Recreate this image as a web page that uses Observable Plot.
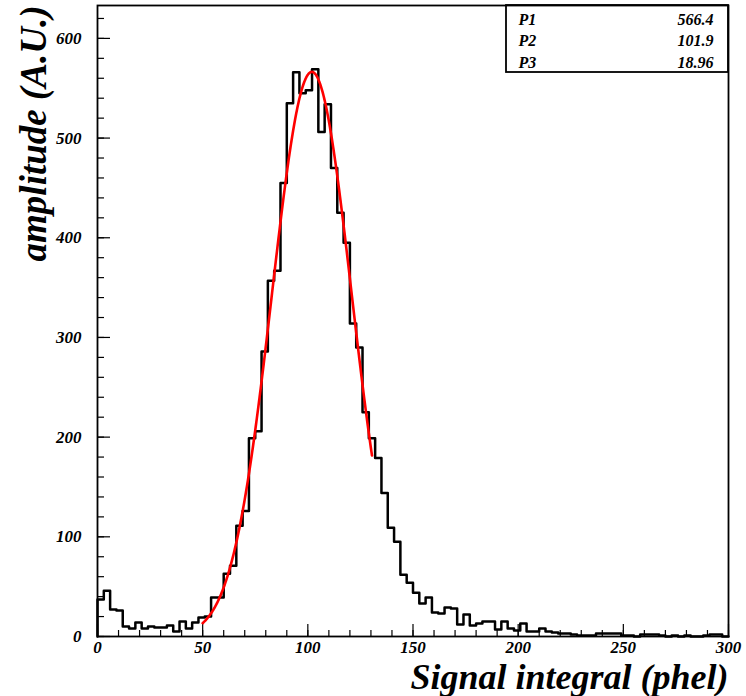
<!DOCTYPE html>
<html><head><meta charset="utf-8">
<script src="https://cdn.jsdelivr.net/npm/d3@7"></script>
<script src="https://cdn.jsdelivr.net/npm/@observablehq/plot@0.6"></script>
<style>
html,body{margin:0;padding:0;background:#fff;}
#chart svg{display:block;}
#chart svg text{font-family:'Liberation Serif','Times New Roman',serif;font-weight:bold;font-style:italic;}
</style>
</head><body><div id="chart"></div>
<script>
// ---- data ----
const binWidth = 3;      // 100 bins from 0 to 300
const counts = [
  37,46,27,26,10,8,14,8,10,9,
  9,11,5,15,8,14,19,20,39,39,
  63,71,111,126,199,206,286,357,367,455,
  535,566,545,548,569,506,534,470,425,395,
  314,290,225,199,179,144,109,95,62,54,
  44,33,39,24,23,29,28,12,22,11,
  13,15,15,7,15,8,6,13,5,5,
  8,5,4,3,3,2,1,1,1,3,
  3,3,3,1,1,0,2,2,2,1,
  0,1,0,1,0,0,1,2,2,0
];
const xTickLabels = [0, 50, 100, 150, 200, 250, 300];
const yTickLabels = [0, 100, 200, 300, 400, 500, 600];
const xMinorTicks = d3.range(0, 301, 10);
const yMinorTicks = d3.range(0, 621, 20);
const fitNames = ["P1", "P2", "P3"];
const fitValues = ["566.4", "101.9", "18.96"];
const fitRange = [50, 130.5];
const xTitle = "Signal integral (phel)";
const yTitle = "amplitude (A.U.)";

// ---- derived tables ----
const histo = [{x: 0, y: 0}];
counts.forEach((c, i) => histo.push({x: i * binWidth, y: c}));
histo.push({x: counts.length * binWidth, y: counts[counts.length - 1]});
histo.push({x: counts.length * binWidth, y: 0});

const [P1, P2, P3] = fitValues.map(Number);
const fit = d3.range(fitRange[0], fitRange[1] + 1e-9, 0.25)
  .map(x => ({x, y: P1 * Math.exp(-0.5 * ((x - P2) / P3) ** 2)}));

const W = 746, H = 696;
const mL = 97, mR = 18, mT = 5, mB = 60;
const FW = W - mL - mR, FH = H - mT - mB;
const font = "'Liberation Serif', 'Times New Roman', serif";
const txt = {fontFamily: font, fontWeight: "bold", fontStyle: "italic", fill: "black"};

const chart = Plot.plot({
  width: W, height: H,
  marginLeft: mL, marginRight: mR, marginTop: mT, marginBottom: mB,
  x: {domain: [0, 300], axis: null},
  y: {domain: [0, 633], axis: null},
  style: {fontFamily: font, fontWeight: "bold", fontStyle: "italic", fontSize: "16px", background: "white", color: "black", overflow: "visible"},
  marks: [
    // inward ticks
    Plot.tickX(xMinorTicks, {x: d => d, insetTop: FH - 6, stroke: "black", strokeWidth: 1.2}),
    Plot.tickX(xTickLabels, {x: d => d, insetTop: FH - 12, stroke: "black", strokeWidth: 1.2}),
    Plot.tickY(yMinorTicks, {y: d => d, insetRight: FW - 7, stroke: "black", strokeWidth: 1.2}),
    Plot.tickY(yTickLabels, {y: d => d, insetRight: FW - 13, stroke: "black", strokeWidth: 1.2}),
    // tick labels
    Plot.text(xTickLabels, {x: d => d, frameAnchor: "bottom", text: d => String(d), dy: 16, lineAnchor: "bottom", fontSize: 17, ...txt}),
    Plot.text(yTickLabels, {y: d => d, frameAnchor: "left", text: d => String(d), dx: -16, textAnchor: "end", fontSize: 17, ...txt}),
    // histogram outline
    Plot.line(histo, {x: "x", y: "y", curve: "step-after", stroke: "black", strokeWidth: 2.5}),
    // gaussian fit
    Plot.line(fit, {x: "x", y: "y", stroke: "#ff0000", strokeWidth: 2.6}),
    Plot.frame({stroke: "black", strokeWidth: 1.8}),
    // titles
    Plot.text([xTitle], {frameAnchor: "bottom-right", text: d => d, dy: 52, dx: 0, textAnchor: "end", lineAnchor: "bottom", fontSize: 36, ...txt}),
    Plot.text([yTitle], {frameAnchor: "top-left", text: d => d, dx: -52, dy: 0, rotate: -90, textAnchor: "end", lineAnchor: "bottom", fontSize: 37, ...txt}),
    // fit statistics
    Plot.text([fitNames.join("\n")], {frameAnchor: "top-right", text: d => d, dx: -(FW - (518 - mL)), dy: 4, textAnchor: "start", lineAnchor: "top", lineHeight: 1.35, fontSize: 16, ...txt}),
    Plot.text([fitValues.join("\n")], {frameAnchor: "top-right", text: d => d, dx: -15, dy: 4, textAnchor: "end", lineAnchor: "top", lineHeight: 1.35, fontSize: 16, ...txt})
  ]
});

// stats box outline (pixel-anchored to the frame's top-right corner)
d3.select(chart).append("rect")
  .attr("x", 506).attr("y", mT)
  .attr("width", W - mR - 506).attr("height", 67)
  .attr("fill", "none").attr("stroke", "black").attr("stroke-width", 1.8);

document.getElementById("chart").appendChild(chart);
</script>
</body></html>
